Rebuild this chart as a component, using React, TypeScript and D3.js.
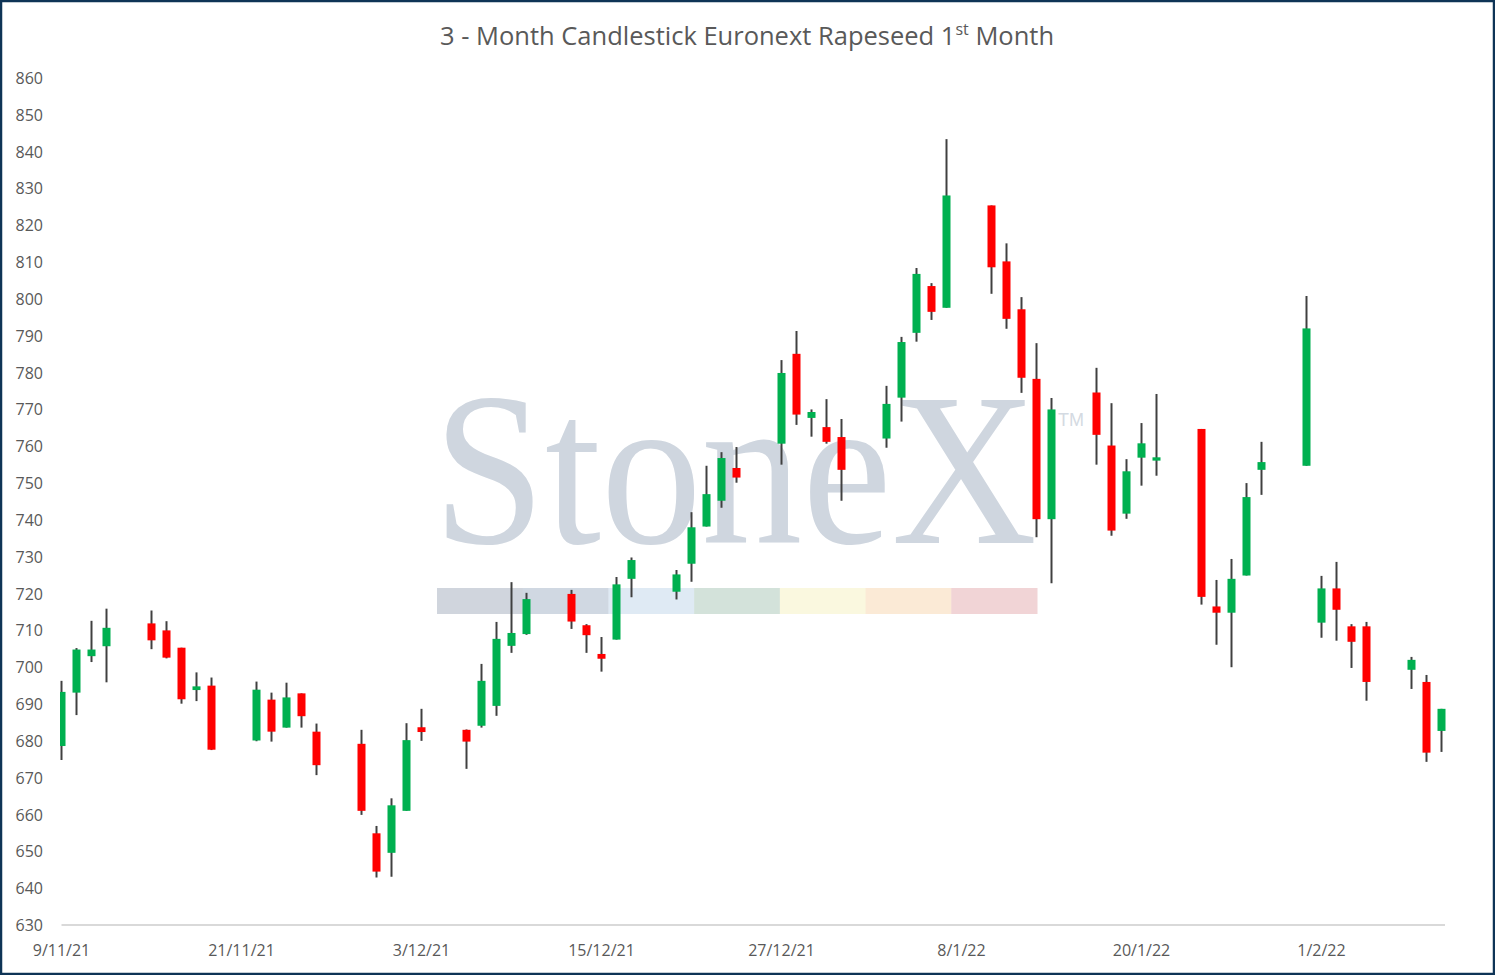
import React from "react";
import * as d3 from "d3";

const dates = [
  "2021-11-09", "2021-11-10", "2021-11-11", "2021-11-12",
  "2021-11-15", "2021-11-16", "2021-11-17", "2021-11-18", "2021-11-19",
  "2021-11-22", "2021-11-23", "2021-11-24", "2021-11-25", "2021-11-26",
  "2021-11-29", "2021-11-30", "2021-12-01", "2021-12-02", "2021-12-03",
  "2021-12-06", "2021-12-07", "2021-12-08", "2021-12-09", "2021-12-10",
  "2021-12-13", "2021-12-14", "2021-12-15", "2021-12-16", "2021-12-17",
  "2021-12-20", "2021-12-21", "2021-12-22", "2021-12-23", "2021-12-24",
  "2021-12-27", "2021-12-28", "2021-12-29", "2021-12-30", "2021-12-31",
  "2022-01-03", "2022-01-04", "2022-01-05", "2022-01-06", "2022-01-07",
  "2022-01-10", "2022-01-11", "2022-01-12", "2022-01-13", "2022-01-14",
  "2022-01-17", "2022-01-18", "2022-01-19", "2022-01-20", "2022-01-21",
  "2022-01-24", "2022-01-25", "2022-01-26", "2022-01-27", "2022-01-28",
  "2022-01-31", "2022-02-01", "2022-02-02", "2022-02-03", "2022-02-04",
  "2022-02-07", "2022-02-08", "2022-02-09",
];

const opens = [
  678.6, 693.1, 703.0, 705.7,
  711.9, 710.0, 705.3, 693.8, 695.0,
  680.1, 691.2, 683.6, 692.9, 682.5,
  679.2, 654.9, 649.6, 661.0, 683.7,
  683.0, 684.1, 689.5, 705.8, 709.0,
  719.9, 711.4, 703.6, 707.5, 724.0,
  720.5, 728.1, 738.2, 745.2, 754.1,
  760.7, 785.1, 767.7, 765.2, 762.5,
  762.1, 773.2, 790.8, 803.5, 797.6,
  825.4, 810.2, 797.2, 778.3, 740.2,
  774.6, 760.2, 741.7, 756.9, 756.1,
  764.7, 716.5, 714.8, 724.9, 753.6,
  754.7, 712.1, 721.4, 711.1, 711.1,
  699.3, 696.0, 682.7,
];

const highs = [
  696.3, 705.2, 712.6, 715.9,
  715.4, 712.5, 705.3, 698.6, 697.2,
  696.1, 693.1, 695.8, 692.9, 684.7,
  683.0, 656.9, 664.4, 684.8, 688.7,
  683.1, 700.9, 712.3, 723.1, 720.2,
  721.0, 711.7, 708.2, 724.5, 729.8,
  726.4, 742.1, 754.7, 758.4, 759.8,
  783.4, 791.3, 770.0, 772.8, 767.4,
  776.4, 789.7, 808.4, 804.3, 843.4,
  825.4, 815.1, 800.5, 788.0, 773.1,
  781.3, 771.7, 756.5, 766.3, 774.2,
  764.7, 723.7, 729.4, 750.0, 761.2,
  800.8, 724.8, 728.6, 711.7, 712.3,
  702.8, 697.9, 688.7,
];

const lows = [
  674.8, 687.0, 701.4, 695.9,
  704.9, 702.4, 690.1, 690.8, 677.5,
  679.9, 679.8, 683.6, 683.6, 670.7,
  659.9, 642.9, 643.1, 661.0, 680.0,
  672.4, 683.6, 686.8, 703.9, 708.8,
  710.4, 703.9, 698.8, 707.5, 719.0,
  718.4, 723.2, 738.2, 743.3, 750.1,
  755.0, 765.8, 762.6, 760.7, 745.2,
  759.6, 766.7, 788.4, 794.3, 797.6,
  801.4, 791.9, 774.5, 735.3, 722.8,
  755.0, 735.7, 740.3, 749.3, 752.0,
  717.0, 706.1, 700.0, 724.9, 746.8,
  754.7, 708.0, 707.2, 699.8, 690.9,
  694.1, 674.3, 677.0,
];

const closes = [
  693.3, 704.8, 704.8, 710.7,
  707.3, 702.6, 691.3, 694.8, 677.6,
  693.9, 682.5, 691.8, 686.7, 673.4,
  661.0, 644.5, 662.5, 680.2, 682.4,
  679.8, 696.3, 707.7, 709.3, 718.5,
  712.4, 708.7, 702.3, 722.5, 729.1,
  725.2, 738.0, 747.0, 756.8, 751.5,
  779.9, 768.6, 769.3, 761.2, 753.6,
  771.5, 788.3, 806.8, 796.5, 828.1,
  808.6, 794.6, 778.6, 740.2, 770.0,
  763.1, 737.1, 753.2, 760.8, 757.0,
  719.1, 714.8, 724.0, 746.2, 755.7,
  792.0, 721.4, 715.6, 706.9, 696.0,
  702.0, 676.8, 688.7,
];

const xTickDates = [
  "2021-11-09", "2021-11-21", "2021-12-03", "2021-12-15",
  "2021-12-27", "2022-01-08", "2022-01-20", "2022-02-01",
];

const yTicks = d3.range(630, 861, 10);

const watermarkBands = ["#d0d5dd", "#d0d8e2", "#dfeaf4", "#d3e2da", "#faf8df", "#fbead6", "#f1d4d6"];

const W = 1495;
const H = 975;

const parse = d3.utcParse("%Y-%m-%d");
const fmt = d3.utcFormat("%-d/%-m/%y");

export default function App() {
  const x = d3
    .scaleUtc()
    .domain([parse("2021-11-09")!, parse("2022-02-09")!])
    .range([61.5, 1441.5]);
  const y = d3.scaleLinear().domain([630, 860]).range([925, 78]);

  const candles = dates.map((d, i) => ({
    date: parse(d)!,
    o: opens[i],
    h: highs[i],
    l: lows[i],
    c: closes[i],
  }));

  const bodyW = 8;
  const bandX0 = 437;
  const bandW = 600 / watermarkBands.length;
  const wmScale = 604 / 654;

  return (
    <svg
      width={W}
      height={H}
      style={{ position: "absolute", left: 0, top: 0, background: "#fff" }}
      fontFamily="'Open Sans', sans-serif"
    >
      <rect x={0} y={0} width={W} height={H} fill="#ffffff" />
      {/* watermark */}
      <g>
        <text
          transform={`translate(433,543) scale(${wmScale},1)`}
          x={0}
          y={0}
          fontFamily="'Liberation Serif', 'Times New Roman', serif"
          fontSize={218}
          fill="#cfd6df"
        >
          StoneX
        </text>
        <text x={1058} y={426} fontFamily="'Liberation Sans', sans-serif" fontSize={18} fill="#d4dae2">
          TM
        </text>
        {watermarkBands.map((c, i) => (
          <rect key={i} x={bandX0 + i * bandW} y={588} width={bandW + 0.5} height={26} fill={c} />
        ))}
      </g>

      {/* title */}
      <text x={747} y={45} textAnchor="middle" fontSize={25.5} fill="#595959">
        3 - Month Candlestick Euronext Rapeseed 1
        <tspan fontSize={16} dy={-10}>st</tspan>
        <tspan dy={10}> Month</tspan>
      </text>

      {/* y-axis labels */}
      {yTicks.map((t) => (
        <text key={t} x={43} y={y(t)} textAnchor="end" dominantBaseline="central" fontSize={16} fill="#595959">
          {t}
        </text>
      ))}

      {/* x-axis line */}
      <line x1={61.5} x2={1445} y1={y(630)} y2={y(630)} stroke="#d9d9d9" strokeWidth={2} />

      {/* x-axis labels */}
      {xTickDates.map((d) => {
        const dt = parse(d)!;
        return (
          <text key={d} x={x(dt)} y={956} textAnchor="middle" fontSize={16} fill="#595959">
            {fmt(dt)}
          </text>
        );
      })}

      <defs>
        <clipPath id="plotClip">
          <rect x={60} y={60} width={1390} height={870} />
        </clipPath>
      </defs>

      {/* candles */}
      <g clipPath="url(#plotClip)">
        {candles.map((k, i) => {
          const cx = x(k.date);
          const up = k.c >= k.o;
          const top = y(Math.max(k.o, k.c));
          const bot = y(Math.min(k.o, k.c));
          return (
            <g key={i}>
              <line x1={cx} x2={cx} y1={y(k.h)} y2={y(k.l)} stroke="#404040" strokeWidth={2} />
              <rect
                x={cx - bodyW / 2}
                y={top}
                width={bodyW}
                height={Math.max(bot - top, 1.5)}
                fill={up ? "#00b050" : "#ff0000"}
              />
            </g>
          );
        })}
      </g>

      {/* frame */}
      <rect x={1} y={1} width={W - 2} height={H - 2} fill="none" stroke="#0e3456" strokeWidth={2.5} />
    </svg>
  );
}
